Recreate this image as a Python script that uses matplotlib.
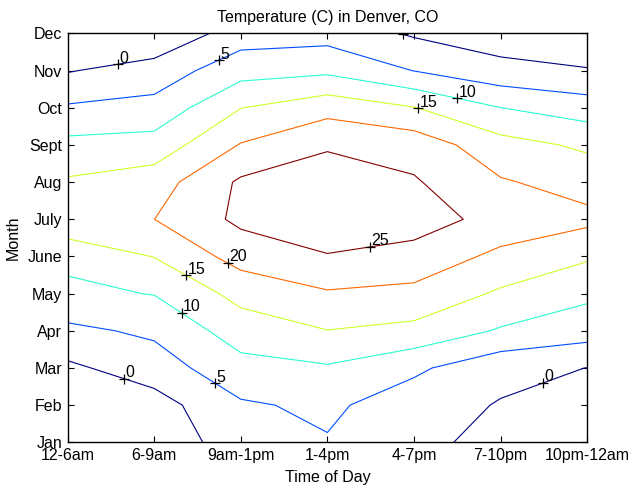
import numpy as np
import matplotlib
matplotlib.use('Agg')
import matplotlib.pyplot as plt

plt.rcParams['font.family'] = ['Liberation Sans', 'DejaVu Sans']

months = ['Jan', 'Feb', 'Mar', 'Apr', 'May', 'June', 'July', 'Aug', 'Sept', 'Oct', 'Nov', 'Dec']
periods = ['12-6am', '6-9am', '9am-1pm', '1-4pm', '4-7pm', '7-10pm', '10pm-12am']

# temperature (C), one row per month, one column per time of day
temps = [
    [-4.0, -2.55, 2.0, 4.66, 2.0, -2.35, -3.5],
    [-2.5, -2.1, 4.37, 5.95, 2.32, -0.32, -1.5],
    [-0.95, 2.57, 8.33, 9.46, 5.94, 1.46, -0.05],
    [3.9, 5.9, 12.4, 14.9, 13.67, 9.5, 7.25],
    [9.0, 10.17, 16.6, 19.49, 18.6, 14.29, 11.02],
    [11.1, 15.15, 22.0, 24.6, 23.4, 18.74, 15.65],
    [19.3, 19.98, 26.09, 29.6, 27.04, 23.46, 21.23],
    [15.6, 17.66, 25.77, 28.2, 25.5, 20.47, 18.08],
    [11.4, 12.0, 20.3, 24.3, 23.0, 16.85, 14.13],
    [5.6, 6.6, 14.9, 18.24, 15.2, 10.05, 7.47],
    [-0.3, 2.16, 8.09, 8.98, 4.9, 1.49, 0.41],
    [-4.0, -4.4, 2.5, 3.04, -0.6, -2.54, -4.7],
]
levels = [0, 5, 10, 15, 20, 25]

# rough spots for the clabel-style "+" marks: (level, time slot, month)
# they get snapped onto the nearest point of that contour line
label_spots = [
    (0, 1.58, 11.18), (5, 2.75, 11.26), (0, 4.87, 11.96),
    (15, 5.06, 10.05), (10, 5.50, 10.26), (25, 4.49, 6.28),
    (20, 2.85, 5.83), (15, 2.37, 5.51), (10, 2.32, 4.49),
    (0, 1.65, 2.70), (5, 2.71, 2.60), (0, 6.49, 2.60),
]


def snap_to_line(ax, cs, level, x, y):
    path = cs.get_paths()[levels.index(level)]
    trans = ax.transData
    target = trans.transform((x, y))
    best, best_d = None, np.inf
    for seg in path.to_polygons(closed_only=False):
        pts = trans.transform(seg)
        for p, q in zip(pts[:-1], pts[1:]):
            d = q - p
            dd = np.dot(d, d)
            t = 0.0 if dd == 0 else np.clip(np.dot(target - p, d) / dd, 0, 1)
            pt = p + t * d
            dist = np.hypot(*(pt - target))
            if dist < best_d:
                best, best_d = pt, dist
    return trans.inverted().transform(best)


Z = np.array(temps)
x = np.arange(1, len(periods) + 1)
y = np.arange(1, len(months) + 1)

fig = plt.figure(figsize=(6.32, 4.92), dpi=100)
ax = fig.add_axes([0.107, 0.101, 0.822, 0.831])

cs = ax.contour(x, y, Z, levels=levels, cmap='jet', vmin=0, vmax=25, linewidths=0.8)
ax.set_xlim(1, 7)
ax.set_ylim(1, 12)

renderer = fig.canvas.get_renderer()
for level, lx, ly in label_spots:
    px, py = snap_to_line(ax, cs, level, lx, ly)
    ax.plot(px, py, '+', color='black', markersize=7, markeredgewidth=0.9)
    txt = ax.annotate(str(level), (px, py), xytext=(1, -1), textcoords='offset points',
                      ha='left', va='bottom', fontsize=11.5)
    # like matlab, a label that sticks out of the box is not shown
    bb = txt.get_window_extent(renderer)
    if bb.y1 > ax.bbox.y1 + 1 or bb.x1 > ax.bbox.x1 + 1:
        txt.remove()

ax.set_xticks(x)
ax.set_xticklabels(periods)
ax.set_yticks(y)
ax.set_yticklabels(months)
ax.tick_params(direction='in', length=4, width=0.8, top=True, right=True,
               labelsize=11.5, pad=4)
for sp in ax.spines.values():
    sp.set_linewidth(1.0)

ax.set_xlabel('Time of Day', fontsize=11.5, labelpad=5)
ax.set_ylabel('Month', fontsize=11.5, labelpad=5)
ax.set_title('Temperature (C) in Denver, CO', fontsize=11.5, pad=8)

fig.savefig('out.png', dpi=100)
